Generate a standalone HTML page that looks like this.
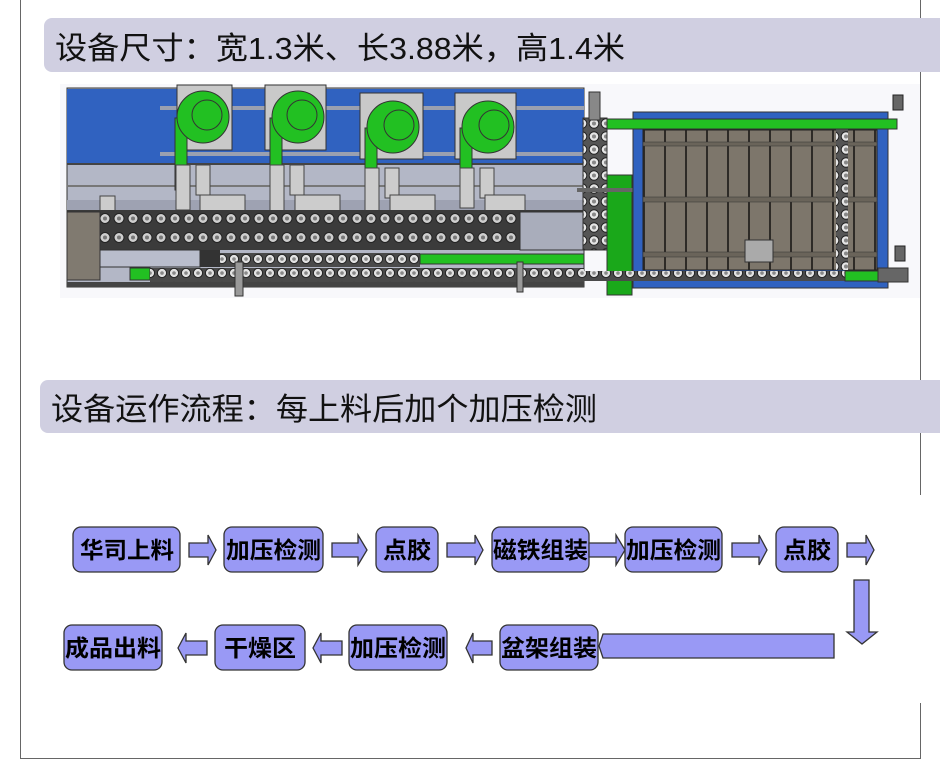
<!DOCTYPE html>
<html><head><meta charset="utf-8"><style>
html,body{margin:0;padding:0;background:#fff;}
svg{display:block;}
text{font-family:"Liberation Sans","Noto Sans CJK SC",sans-serif;}
</style></head><body>
<svg width="940" height="760" viewBox="0 0 940 760" xmlns="http://www.w3.org/2000/svg">
<defs>
<pattern id="rl" x="0" y="0" width="14" height="19" patternUnits="userSpaceOnUse">
<rect width="14" height="19" fill="#3b3b3b"/><circle cx="7" cy="9.5" r="5" fill="#cfcfcf" stroke="#222"/><circle cx="7" cy="9.5" r="2" fill="#777"/></pattern>
<pattern id="rs" x="0" y="0" width="12" height="14" patternUnits="userSpaceOnUse">
<rect width="12" height="14" fill="#4a4a4a"/><circle cx="6" cy="7" r="4.6" fill="#e2e2e2" stroke="#222"/><circle cx="6" cy="7" r="1.8" fill="#888"/></pattern>
<pattern id="rv" x="0" y="0" width="12" height="13" patternUnits="userSpaceOnUse">
<rect width="12" height="13" fill="#555"/><circle cx="6" cy="6.5" r="4.8" fill="#e6e6e6" stroke="#222"/><circle cx="6" cy="6.5" r="2" fill="#888"/></pattern>
<pattern id="pl" x="643" y="0" width="21" height="10" patternUnits="userSpaceOnUse">
<rect width="21" height="10" fill="#7d766b"/><rect x="0" width="2" height="10" fill="#2e2b27"/></pattern>
</defs>
<line x1="20.5" y1="0" x2="20.5" y2="759" stroke="#666"/>
<line x1="20" y1="758.5" x2="921" y2="758.5" stroke="#666"/>
<line x1="920.5" y1="0" x2="920.5" y2="495" stroke="#666"/>
<line x1="920.5" y1="703" x2="920.5" y2="759" stroke="#666"/>
<rect x="44" y="18" width="910" height="54" rx="8" fill="#d0cfe1"/>
<text x="55" y="59" font-size="31" fill="#111" textLength="570" lengthAdjust="spacingAndGlyphs">设备尺寸：宽1.3米、长3.88米，高1.4米</text>
<rect x="40" y="380" width="910" height="53" rx="8" fill="#d0cfe1"/>
<text x="51" y="420" font-size="31" fill="#111" textLength="546" lengthAdjust="spacingAndGlyphs">设备运作流程：每上料后加个加压检测</text>

<rect x="60" y="84" width="860" height="214" fill="#f8f8fb"/>
<rect x="67" y="88" width="517" height="199" fill="#b3b7c6" stroke="#333"/>
<rect x="67" y="89" width="517" height="75" fill="#3062c0"/>
<rect x="67" y="163" width="517" height="2" fill="#444"/>
<rect x="160" y="106" width="424" height="4" fill="#9aa0b0"/>
<rect x="160" y="152" width="424" height="4" fill="#9aa0b0"/>
<rect x="67" y="185" width="517" height="2" fill="#777"/>
<rect x="67" y="200" width="517" height="10" fill="#9ea2b2"/>
<g stroke="#333">
<rect x="177" y="85" width="55" height="65" fill="#c9c9c9"/>
<rect x="265" y="85" width="61" height="65" fill="#c9c9c9"/>
<rect x="360" y="93" width="63" height="66" fill="#c9c9c9"/>
<rect x="455" y="93" width="61" height="66" fill="#c9c9c9"/>
<rect x="175" y="118" width="12" height="72" fill="#22c022"/>
<rect x="270" y="118" width="12" height="72" fill="#22c022"/>
<rect x="365" y="128" width="12" height="72" fill="#22c022"/>
<rect x="460" y="128" width="12" height="72" fill="#22c022"/>
<circle cx="203" cy="117" r="26" fill="#22c022"/><circle cx="207" cy="115" r="15" fill="none"/>
<circle cx="298" cy="117" r="26" fill="#22c022"/><circle cx="302" cy="115" r="15" fill="none"/>
<circle cx="393" cy="127" r="26" fill="#22c022"/><circle cx="399" cy="125" r="15" fill="none"/>
<circle cx="488" cy="127" r="26" fill="#22c022"/><circle cx="494" cy="125" r="15" fill="none"/>
</g>
<g fill="#ccc" stroke="#444">
<rect x="176" y="165" width="14" height="45"/><rect x="196" y="165" width="14" height="30"/>
<rect x="270" y="165" width="14" height="50"/><rect x="290" y="165" width="14" height="30"/>
<rect x="365" y="168" width="14" height="45"/><rect x="385" y="168" width="14" height="30"/>
<rect x="460" y="168" width="14" height="40"/><rect x="480" y="168" width="14" height="30"/>
<rect x="200" y="195" width="45" height="16"/><rect x="295" y="195" width="45" height="16"/>
<rect x="390" y="195" width="45" height="16"/><rect x="485" y="195" width="40" height="16"/>
<rect x="100" y="196" width="15" height="15"/>
</g>
<rect x="67" y="210" width="517" height="40" fill="#3a3a3a"/>
<rect x="100" y="213" width="420" height="19" fill="url(#rl)"/>
<rect x="100" y="232" width="420" height="18" fill="url(#rl)"/>
<rect x="520" y="212" width="64" height="38" fill="#a9adbb" stroke="#333"/>
<rect x="67" y="212" width="33" height="68" fill="#807a70" stroke="#333"/>
<rect x="100" y="250" width="100" height="17" fill="#b9bdcc" stroke="#333"/>
<rect x="200" y="250" width="20" height="17" fill="#333"/>
<rect x="220" y="253" width="200" height="14" fill="url(#rs)"/>
<rect x="420" y="254" width="164" height="10" fill="#22c022" stroke="#333"/>
<rect x="130" y="268" width="20" height="12" fill="#22c022" stroke="#333"/>
<rect x="150" y="268" width="434" height="14" fill="url(#rs)"/>
<rect x="67" y="282" width="517" height="5" fill="#444"/>
<rect x="235" y="262" width="8" height="34" fill="#999" stroke="#333"/>
<rect x="517" y="262" width="6" height="30" fill="#999" stroke="#333"/>
<rect x="583" y="118" width="24" height="132" fill="url(#rv)" stroke="#333"/>
<rect x="589" y="92" width="11" height="28" fill="#888" stroke="#333"/>
<rect x="607" y="175" width="25" height="120" fill="#1aa81a" stroke="#333"/>
<rect x="577" y="188" width="56" height="4" fill="#666"/>
<rect x="633" y="112" width="255" height="176" fill="#3062c0" stroke="#333"/>
<rect x="643" y="130" width="234" height="140" fill="url(#pl)" stroke="#222"/>
<rect x="643" y="142" width="234" height="4" fill="#6a645a" stroke="#333" stroke-width=".5"/>
<rect x="643" y="197" width="234" height="5" fill="#6a645a" stroke="#333" stroke-width=".5"/>
<rect x="643" y="252" width="234" height="5" fill="#6a645a" stroke="#333" stroke-width=".5"/>
<rect x="836" y="125" width="12" height="145" fill="url(#rv)"/>
<rect x="607" y="119" width="290" height="10" fill="#22c022" stroke="#333"/>
<rect x="580" y="271" width="265" height="10" fill="url(#rs)"/>
<rect x="845" y="271" width="35" height="10" fill="#22c022" stroke="#333"/>
<rect x="878" y="268" width="30" height="14" fill="#666" stroke="#333"/>
<rect x="745" y="240" width="28" height="22" fill="#aaa" stroke="#333"/>
<rect x="893" y="95" width="10" height="15" fill="#666" stroke="#222"/>
<rect x="895" y="246" width="10" height="15" fill="#666" stroke="#222"/>

<g fill="#9999f5" stroke="#333" stroke-width="1.3">
<rect x="73" y="527" width="107" height="45" rx="8"/>
<rect x="224" y="527" width="99" height="45" rx="8"/>
<rect x="376" y="527" width="62" height="45" rx="8"/>
<rect x="492" y="527" width="97" height="45" rx="8"/>
<rect x="625" y="527" width="97" height="45" rx="8"/>
<rect x="776" y="527" width="62" height="45" rx="8"/>
<rect x="64" y="625" width="98" height="45" rx="8"/>
<rect x="215" y="625" width="90" height="45" rx="8"/>
<rect x="349" y="625" width="98" height="45" rx="8"/>
<rect x="500" y="625" width="98" height="45" rx="8"/>
<path d="M189 543h19v-8l8 15-8 15v-8h-19z"/>
<path d="M332 543h26v-8l9 15-9 15v-8h-26z"/>
<path d="M447 543h28v-8l8 15-8 15v-8h-28z"/>
<path d="M589 543h27v-8l9 15-9 15v-8h-27z"/>
<path d="M732 543h27v-8l8 15-8 15v-8h-27z"/>
<path d="M847 543h19v-8l8 15-8 15v-8h-19z"/>
<path d="M854 580h15v52h8l-15 12-15-12h7z"/>
<path d="M207 641h-21v-8l-8 15 8 15v-8h21z"/>
<path d="M342 641h-21v-8l-8 15 8 15v-8h21z"/>
<path d="M492 641h-19v-8l-7 15 7 15v-8h19z"/>
<path d="M834 634h-231l-4 12 4 12h231z"/>
</g>
<g font-size="23" font-weight="bold" fill="#000" lengthAdjust="spacingAndGlyphs">
<text x="80" y="558" textLength="94" lengthAdjust="spacingAndGlyphs">华司上料</text>
<text x="226" y="558" textLength="95" lengthAdjust="spacingAndGlyphs">加压检测</text>
<text x="383" y="558" textLength="48" lengthAdjust="spacingAndGlyphs">点胶</text>
<text x="493" y="558" textLength="95" lengthAdjust="spacingAndGlyphs">磁铁组装</text>
<text x="626" y="558" textLength="95" lengthAdjust="spacingAndGlyphs">加压检测</text>
<text x="783" y="558" textLength="48" lengthAdjust="spacingAndGlyphs">点胶</text>
<text x="65" y="656" textLength="96" lengthAdjust="spacingAndGlyphs">成品出料</text>
<text x="224" y="656" textLength="72" lengthAdjust="spacingAndGlyphs">干燥区</text>
<text x="350" y="656" textLength="96" lengthAdjust="spacingAndGlyphs">加压检测</text>
<text x="501" y="656" textLength="96" lengthAdjust="spacingAndGlyphs">盆架组装</text>
</g>
</svg>
</body></html>
